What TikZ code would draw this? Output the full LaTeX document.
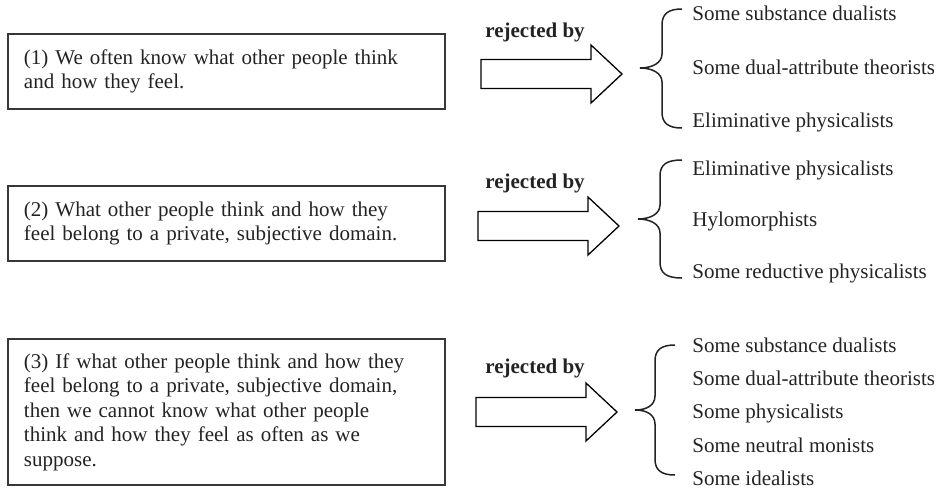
\documentclass[tikz,border=0pt]{standalone}
\usepackage{fontspec}
\setmainfont{Liberation Serif}
\definecolor{ink}{RGB}{35,35,35}
\definecolor{boxline}{RGB}{55,55,55}
\newcommand\mybrace[6]{% end x, vertical x, tip x, top y, mid y, bottom y
  (#1,#4) .. controls ({#2+6},#4) and (#2,{#4+5}) .. (#2,{#4+16})
  -- (#2,{#5-14}) .. controls (#2,{#5-5}) and ({#3+12},#5) .. (#3,#5)
  .. controls ({#3+12},#5) and (#2,{#5+5}) .. (#2,{#5+14})
  -- (#2,{#6-16}) .. controls (#2,{#6-5}) and ({#2+6},#6) .. (#1,#6)}
\newcommand\blockarrow[2]{% tip x, tip y
  ({#1-141},{#2-14.5}) -- ({#1-31},{#2-14.5}) -- ({#1-31},{#2-29}) -- (#1,#2)
  -- ({#1-31},{#2+29}) -- ({#1-31},{#2+14.5}) -- ({#1-141},{#2+14.5}) -- cycle}
\begin{document}
\begin{tikzpicture}[x=0.5pt,y=-0.5pt,
  txt/.style={font=\fontsize{10.5pt}{12.25pt}\selectfont, text=ink, inner sep=0pt},
  premise/.style={draw=boxline, line width=1pt, font=\fontsize{10.5pt}{12.25pt}\selectfont,
    text=ink, align=left, text width=202.5pt, inner xsep=8pt, inner ysep=0pt,
    minimum width=218.5pt, anchor=north west},
  rej/.style={txt, font=\fontsize{10.5pt}{12.25pt}\selectfont\bfseries, anchor=base west},
  item/.style={txt, anchor=base west},
  barrow/.style={draw=black, line width=0.65pt, fill=white},
  bracel/.style={draw=ink, line width=0.75pt}]
\useasboundingbox (0,0) rectangle (939,494);

% premises
\node[premise, minimum height=37.5pt] (box1) at (7,33)
  {(1) We often know what other people think\\and how they feel.};
\node[premise, minimum height=37.5pt] (box2) at (7,185)
  {(2) What other people think and how they\\feel belong to a private, subjective domain.};
\node[premise, minimum height=73pt] (box3) at (7,338)
  {(3) If what other people think and how they\\feel belong to a private, subjective domain,\\then we cannot know what other people\\think and how they feel as often as we\\suppose.};

% labels
\node[rej] (rej1) at (485,37) {rejected by};
\node[rej] (rej2) at (485,188) {rejected by};
\node[rej] (rej3) at (485,373) {rejected by};

% block arrows
\draw[barrow] \blockarrow{622}{74};
\draw[barrow] \blockarrow{619}{226};
\draw[barrow] \blockarrow{617}{412};

% braces
\draw[bracel] \mybrace{682}{662}{640}{9}{68}{128};
\draw[bracel] \mybrace{682}{660}{638}{160}{219}{278};
\draw[bracel] \mybrace{675}{655}{635}{345}{410}{475};

% lists
\node[item] (a1) at (692,20) {Some substance dualists};
\node[item] (a2) at (692,74) {Some dual-attribute theorists};
\node[item] (a3) at (692,127) {Eliminative physicalists};

\node[item] (b1) at (692,175) {Eliminative physicalists};
\node[item] (b2) at (692,226) {Hylomorphists};
\node[item] (b3) at (692,278) {Some reductive physicalists};

\node[item] (c1) at (692,352) {Some substance dualists};
\node[item] (c2) at (692,385) {Some dual-attribute theorists};
\node[item] (c3) at (692,418) {Some physicalists};
\node[item] (c4) at (692,452) {Some neutral monists};
\node[item] (c5) at (692,485) {Some idealists};
\end{tikzpicture}
\end{document}
